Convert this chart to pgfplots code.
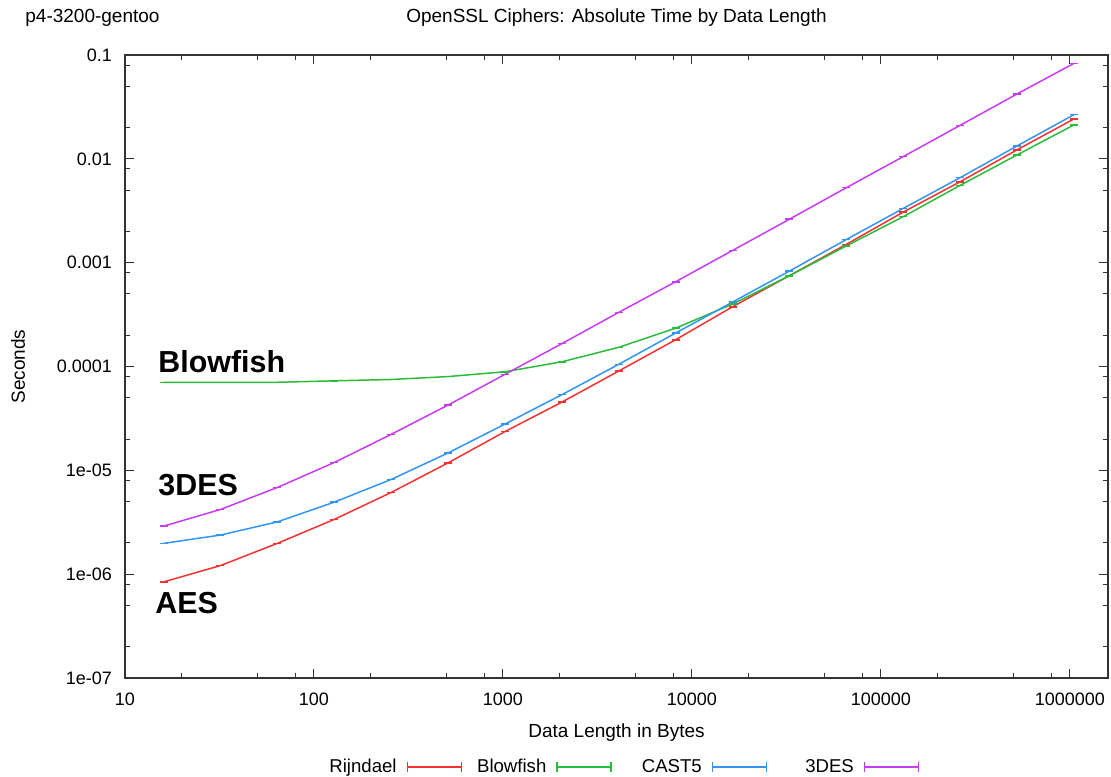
\documentclass[border=0pt]{standalone}
\usepackage{fontspec}
\setmainfont{Liberation Sans}
\usepackage{pgfplots}
\usepackage{pgfplotstable}
\pgfplotsset{compat=1.18}

\definecolor{cRij}{RGB}{245,50,50}
\definecolor{cBlow}{RGB}{40,190,60}
\definecolor{cCast}{RGB}{50,150,240}
\definecolor{cDes}{RGB}{200,60,240}

% bytes, seconds per cipher
\pgfplotstableread{
len     rij      blow     cast     des
16      8.43e-7  7.03e-5  1.98e-6  2.90e-6
32      1.21e-6  7.03e-5  2.38e-6  4.20e-6
64      1.98e-6  7.05e-5  3.19e-6  6.84e-6
128     3.37e-6  7.28e-5  4.94e-6  1.19e-5
256     6.12e-6  7.50e-5  8.17e-6  2.22e-5
512     1.18e-5  8.00e-5  1.47e-5  4.25e-5
1024    2.36e-5  8.90e-5  2.79e-5  8.40e-5
2048    4.54e-5  1.11e-4  5.35e-5  1.66e-4
4096    9.04e-5  1.53e-4  1.05e-4  3.32e-4
8192    1.81e-4  2.34e-4  2.10e-4  6.55e-4
16384   3.76e-4  3.99e-4  4.17e-4  1.31e-3
32768   7.50e-4  7.48e-4  8.30e-4  2.62e-3
65536   1.50e-3  1.45e-3  1.67e-3  5.27e-3
131072  3.07e-3  2.77e-3  3.33e-3  1.05e-2
262144  6.01e-3  5.55e-3  6.58e-3  2.10e-2
524288  1.22e-2  1.09e-2  1.33e-2  4.21e-2
1048576 2.42e-2  2.12e-2  2.66e-2  8.30e-2
}\ciphers

\begin{document}
\begin{tikzpicture}
\begin{axis}[
    name=main,
    scale only axis,
    width=491.5pt, height=311.5pt,
    xmode=log, ymode=log,
    xmin=10, xmax=1.59e6,
    ymin=1e-7, ymax=0.1,
    font=\fontsize{9}{11}\selectfont,
    /pgf/number format/assume math mode=true,
    axis line style={black!80, line width=0.6pt},
    tick style={black!80, line width=0.5pt},
    major tick length=4.5pt, minor tick length=2.5pt,
    xtick={10,100,1000,10000,100000,1000000},
    xticklabels={10,100,1000,10000,100000,1000000},
    minor xtick={20,50,80,200,500,800,2000,5000,8000,20000,50000,80000,200000,500000,800000},
    ytick={1e-7,1e-6,1e-5,1e-4,1e-3,1e-2,1e-1},
    yticklabels={1e-07,1e-06,1e-05,0.0001,0.001,0.01,0.1},
    minor ytick={2e-7,5e-7,8e-7,2e-6,5e-6,8e-6,2e-5,5e-5,8e-5,2e-4,5e-4,8e-4,2e-3,5e-3,8e-3,2e-2,5e-2,8e-2},
    xticklabel style={yshift=-4pt},
    yticklabel style={xshift=-3pt},
    title={OpenSSL Ciphers: Absolute Time by Data Length},
    title style={at={(axis description cs:0.5,1)}, anchor=center, yshift=12.5pt,
        font=\fontsize{9.5}{11}\selectfont},
    xlabel={Data Length in Bytes},
    xlabel style={at={(axis description cs:0.5,0)}, anchor=center, yshift=-27.5pt,
        font=\fontsize{9.5}{11}\selectfont},
    ylabel={Seconds},
    ylabel style={at={(axis description cs:0,0.5)}, anchor=center, yshift=53.5pt,
        font=\fontsize{9.5}{11}\selectfont},
    every axis plot/.append style={line width=0.75pt, mark=-, mark size=2pt},
    legend plot pos=right,
    legend columns=4,
    legend style={at={(axis description cs:0.506,-0.143)}, anchor=center, draw=none,
        fill=none, font=\fontsize{9.3}{11}\selectfont,
        /tikz/column 1/.style={column sep=3pt},
        /tikz/column 2/.style={column sep=5.5pt},
        /tikz/column 3/.style={column sep=3pt},
        /tikz/column 4/.style={column sep=13pt},
        /tikz/column 5/.style={column sep=3pt},
        /tikz/column 6/.style={column sep=17pt},
        /tikz/column 7/.style={column sep=3pt}},
    legend image code/.code={
        \draw[#1] (0pt,0pt) -- (27pt,0pt);
        \draw[#1] (0pt,-2.5pt) -- (0pt,2.5pt);
        \draw[#1] (27pt,-2.5pt) -- (27pt,2.5pt);
    },
]
\addplot[color=cRij] table[x=len, y=rij] {\ciphers};
\addlegendentry{Rijndael}
\addplot[color=cBlow] table[x=len, y=blow] {\ciphers};
\addlegendentry{Blowfish}
\addplot[color=cCast] table[x=len, y=cast] {\ciphers};
\addlegendentry{CAST5}
\addplot[color=cDes] table[x=len, y=des] {\ciphers};
\addlegendentry{3DES}

\node[anchor=base west, font=\fontsize{15.2}{18}\selectfont\bfseries, inner sep=0pt]
    at (axis cs:14.95,8.69e-5) {Blowfish};
\node[anchor=base west, font=\fontsize{15.2}{18}\selectfont\bfseries, inner sep=0pt]
    at (axis cs:14.95,5.77e-6) {3DES};
\node[anchor=base west, font=\fontsize{15.2}{18}\selectfont\bfseries, inner sep=0pt]
    at (axis cs:14.4,4.2e-7) {AES};
\end{axis}
\node[anchor=west, font=\fontsize{9.5}{11}\selectfont, inner sep=0pt]
    at ([xshift=-50pt, yshift=18.5pt]main.north west) {p4-3200-gentoo};
\pgfresetboundingbox
\path[use as bounding box] ([xshift=-62.5pt, yshift=-49pt]main.south west)
    rectangle ([xshift=493pt, yshift=339pt]main.south west);
\end{tikzpicture}
\end{document}
